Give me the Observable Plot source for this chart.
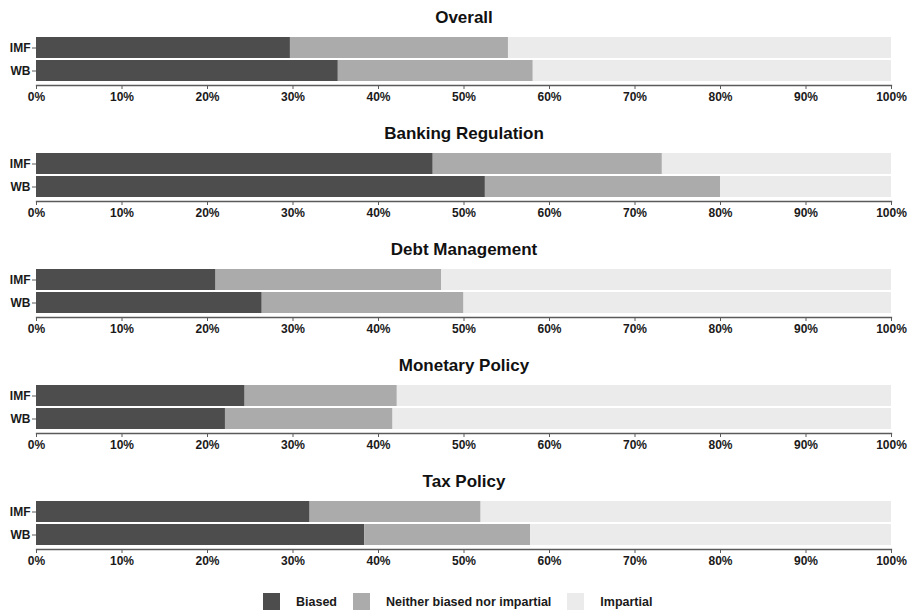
<!DOCTYPE html>
<html>
<head>
<meta charset="utf-8">
<script src="https://cdn.jsdelivr.net/npm/d3@7"></script>
<script src="https://cdn.jsdelivr.net/npm/@observablehq/plot@0.6"></script>
<style>
  html, body { margin: 0; padding: 0; background: #ffffff; }
  body { width: 910px; height: 612px; overflow: hidden; font-family: "Liberation Sans", Arial, sans-serif; }
  #charts svg { display: block; }
  #legend { display: flex; align-items: center; height: 17px; margin-top: 13px; padding-left: 263px; font-size: 12.5px; font-weight: bold; color: #1a1a1a; }
  #legend .sw { width: 17px; height: 17px; margin-right: 16px; }
  #legend .lab { margin-right: 16px; }
</style>
</head>
<body>
<div id="charts"></div>
<div id="legend"></div>
<script>
const categories = ["Overall", "Banking Regulation", "Debt Management", "Monetary Policy", "Tax Policy"];
const orgs = ["IMF", "WB"];
const responses = ["Biased", "Neither biased nor impartial", "Impartial"];
const colors = ["#4d4d4d", "#ababab", "#ebebeb"];

// shares (%) per category, in the order of `categories`
const biasedIMF    = [29.7, 46.4, 21.0, 24.4, 32.0];
const neitherIMF   = [25.5, 26.8, 26.4, 17.8, 20.0];
const impartialIMF = [44.8, 26.8, 52.6, 57.8, 48.0];
const biasedWB     = [35.3, 52.5, 26.4, 22.1, 38.4];
const neitherWB    = [22.8, 27.5, 23.6, 19.6, 19.4];
const impartialWB  = [41.9, 20.0, 50.0, 58.3, 42.2];

const xTicks = [0, 10, 20, 30, 40, 50, 60, 70, 80, 90, 100];

const series = {
  IMF: [biasedIMF, neitherIMF, impartialIMF],
  WB: [biasedWB, neitherWB, impartialWB]
};

const container = document.getElementById("charts");
const font = '"Liberation Sans", Arial, sans-serif';

categories.forEach((cat, k) => {
  const rows = [];
  orgs.forEach(org => {
    responses.forEach((resp, r) => {
      rows.push({category: cat, org, response: resp, value: series[org][r][k]});
    });
  });
  const chart = Plot.plot({
    width: 910,
    height: 116,
    marginLeft: 36,
    marginRight: 19,
    marginTop: 33,
    marginBottom: 31,
    style: {fontFamily: font, fontSize: "12px", background: "#ffffff", color: "#1a1a1a"},
    x: {domain: [0, 100], label: null},
    y: {domain: orgs, paddingInner: 0.1, paddingOuter: 0.15, label: null},
    color: {domain: responses, range: colors},
    marks: [
      Plot.barX(rows, Plot.stackX({x: "value", y: "org", fill: "response", order: responses})),
      Plot.frame({anchor: "bottom", stroke: "#5a5a5a", strokeWidth: 1.3}),
      Plot.axisX({ticks: xTicks, tickFormat: d => d + "%", tickSize: 4, tickPadding: 3, fontWeight: "bold", fontSize: 12, fill: "#1a1a1a", stroke: "#5a5a5a", label: null}),
      Plot.axisY({tickSize: 4, tickPadding: 2, fontWeight: "bold", fontSize: 12, fill: "#1a1a1a", stroke: "#5a5a5a", label: null}),
      Plot.text([cat], {frameAnchor: "top", lineAnchor: "middle", dy: -16, text: d => d, fontSize: 17, fontWeight: "bold", fill: "#111"})
    ]
  });
  container.appendChild(chart);
});

const legend = document.getElementById("legend");
responses.forEach((resp, i) => {
  const sw = document.createElement("div");
  sw.className = "sw";
  sw.style.background = colors[i];
  const lab = document.createElement("span");
  lab.className = "lab";
  lab.textContent = resp;
  legend.appendChild(sw);
  legend.appendChild(lab);
});
</script>
</body>
</html>
